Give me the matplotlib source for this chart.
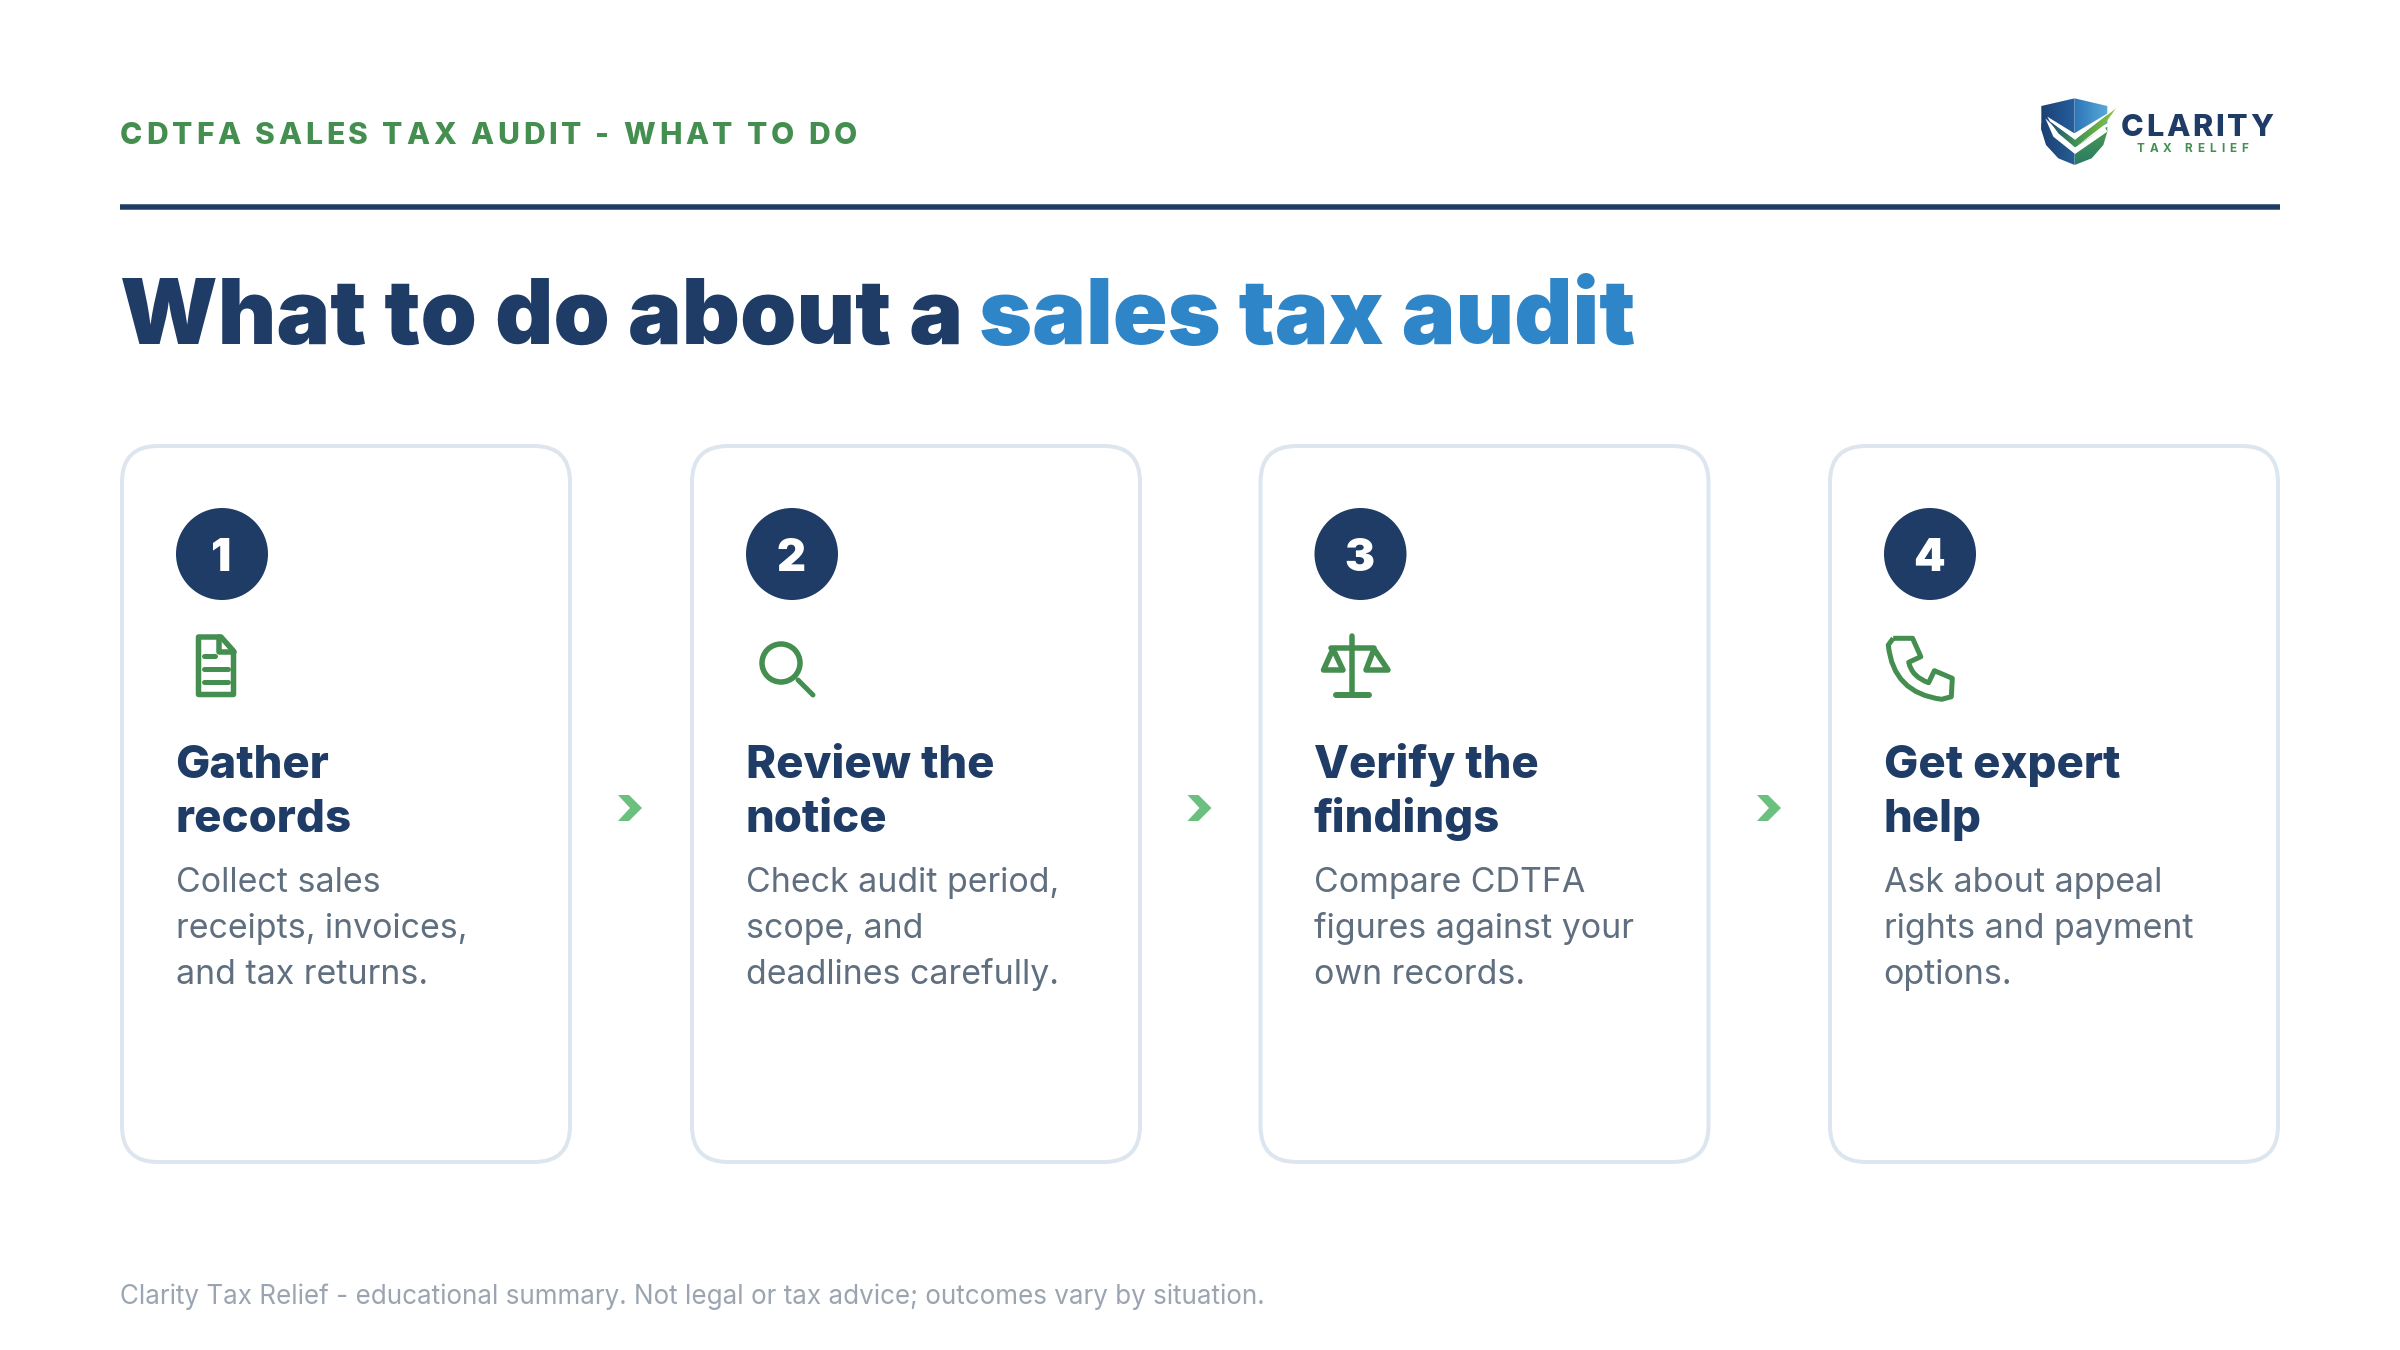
import numpy as np
import matplotlib
matplotlib.use("Agg")
import matplotlib.pyplot as plt
from matplotlib.patches import FancyBboxPatch, Circle, Polygon, PathPatch
from matplotlib.path import Path

HEADER = "CDTFA SALES TAX AUDIT - WHAT TO DO"
TITLE_A = "What to do about a"
TITLE_B = "sales tax audit"
NUMBERS = ["1", "2", "3", "4"]
STEP_TITLES = [["Gather", "records"], ["Review the", "notice"], ["Verify the", "findings"], ["Get expert", "help"]]
STEP_BODIES = [["Collect sales", "receipts, invoices,", "and tax returns."],
               ["Check audit period,", "scope, and", "deadlines carefully."],
               ["Compare CDTFA", "figures against your", "own records."],
               ["Ask about appeal", "rights and payment", "options."]]
FOOTER = "Clarity Tax Relief - educational summary. Not legal or tax advice; outcomes vary by situation."

NAVY = "#1F3C66"; BLUE = "#2E86C8"; GREEN = "#448F50"; LIGHTG = "#6BBF7F"
BORDER = "#DDE6EF"; BODY = "#5F6F80"; FOOT = "#9AA5B1"

fig = plt.figure(figsize=(24, 13.5), dpi=100, facecolor="white")
ax = fig.add_axes([0, 0, 1, 1])
ax.set_xlim(0, 2400); ax.set_ylim(1350, 0); ax.axis("off")
rend = fig.canvas.get_renderer()
PX = 0.72

def measure(s, size, weight, family="Inter"):
    t = ax.text(0, 0, s + ".", fontsize=size*PX, fontweight=weight, family=family)
    w = t.get_window_extent(rend).width
    t.set_text(".")
    w0 = t.get_window_extent(rend).width
    t.remove()
    return w - w0

def txt(x, y, s, size, color, weight="normal", spacing=0.0, family="Inter", ha="left", zorder=5):
    if spacing == 0:
        ax.text(x, y, s, fontsize=size*PX, color=color, fontweight=weight, family=family, va="baseline", ha=ha, zorder=zorder)
        return x + measure(s, size, weight, family)
    for i, c in enumerate(s):
        if c != " ":
            ax.text(x + measure(s[:i], size, weight, family) + i*spacing, y, c, fontsize=size*PX,
                    color=color, fontweight=weight, family=family, va="baseline", ha="left", zorder=zorder)
    return x + measure(s, size, weight, family) + len(s)*spacing

def stroke(pts, lw=5, color=GREEN, closed=False):
    ax.add_patch(Polygon(pts, closed=closed, fill=False, edgecolor=color, lw=lw*PX, joinstyle="round", capstyle="round"))

# header
txt(120, 144, HEADER, 30, GREEN, "heavy", spacing=3.82)
ax.plot([120, 2280], [207, 207], color=NAVY, lw=5.5*PX, solid_capstyle="butt")

# title
txt(120, 343.5, TITLE_A, 90.3, NAVY, "black")
txt(979, 343.5, TITLE_B, 90.3, BLUE, "black")

# logo
def grad(poly, c0, c1, horizontal=False, zorder=3):
    a = np.array(poly)
    x0, x1, y0, y1 = a[:,0].min(), a[:,0].max(), a[:,1].min(), a[:,1].max()
    c0 = np.array(matplotlib.colors.to_rgb(c0)); c1 = np.array(matplotlib.colors.to_rgb(c1))
    t = np.linspace(0, 1, 64)
    g = (c0[None, :]*(1-t)[:, None] + c1[None, :]*t[:, None])
    img = g[None, :, :] if horizontal else g[:, None, :]
    im = ax.imshow(img, extent=(x0, x1, y1, y0), aspect="auto", zorder=zorder, interpolation="bilinear")
    p = Polygon(poly, closed=True, fc="none", ec="none")
    ax.add_patch(p)
    im.set_clip_path(p)
    ax.set_xlim(0, 2400); ax.set_ylim(1350, 0)

def ZP(l):
    return [(2030 + x/3, 90 + y/3) for x, y in l]

def white(l):
    ax.add_patch(Polygon(ZP(l), closed=True, fc="white", ec="none", zorder=4))

grad(ZP([(34,48),(134,25),(134,150),(34,120)]), "#1C3F72", "#25609F", True)
grad(ZP([(134,25),(232,48),(232,100),(134,150)]), "#2E76B8", "#5AA9D9", True)
grad(ZP([(34,100),(134,170),(134,225),(85,205),(48,165),(34,120)]), "#1C3F72", "#265E93", True)
grad(ZP([(134,170),(232,110),(232,125),(220,165),(185,205),(134,225)]), "#4C9C52", "#2A7A66", False)
white([(52,80),(133,130),(258,55),(135,150),(60,95)])
white([(46,85),(135,172),(225,112),(232,125),(135,192),(70,140)])
grad(ZP([(60,95),(135,150),(135,172),(85,130)]), "#1F4C7E", "#3E9152", True, zorder=4.5)
grad(ZP([(135,150),(258,55),(222,105),(135,172)]), "#3E9152", "#8DC63F", True, zorder=4.5)
txt(2120.7, 136, "CLARITY", 30.5, NAVY, "heavy", spacing=2.8)
txt(2136.7, 151.7, "TAX RELIEF", 11.7, GREEN, "bold", spacing=5)

# cards
LEFTS = [122, 692, 1260.5, 1830]
W, T, H = 448, 446, 716
for i, L in enumerate(LEFTS):
    ax.add_patch(FancyBboxPatch((L+36, T+36), W-72, H-72, boxstyle="round,pad=36,rounding_size=36",
                                fc="white", ec=BORDER, lw=4*PX))
    cx = L + 100
    ax.add_patch(Circle((cx, 554), 46, fc=NAVY, ec="none"))
    ax.text(cx-1, 571, NUMBERS[i], fontsize=45*PX, color="white", fontweight="black", family="Inter", ha="center", va="baseline")
    x = L + 53.5
    for j, s in enumerate(STEP_TITLES[i]):
        txt(x, 778 + 54*j, s, 45.5, NAVY, "heavy")
    for j, s in enumerate(STEP_BODIES[i]):
        txt(x, 892 + 46*j, s, 33.9, BODY, "normal")

# chevrons
for cx in [630, 1199.5, 1769]:
    x0 = cx - 12
    ax.add_patch(Polygon([(x0, 795), (x0+11, 795), (x0+24, 808), (x0+11, 821), (x0, 821), (x0+12, 808)], closed=True, fc=LIGHTG, ec="none"))

# doc icon
stroke([(198.5,637),(221,637),(233.5,651),(233.5,694.5),(198.5,694.5)], closed=True, lw=5.5)
stroke([(219,637),(219,652),(233.5,652)], lw=5.5)
for x1, y in [(215,656),(228,669),(228,682)]:
    ax.plot([204, x1], [y, y], color=GREEN, lw=5*PX, solid_capstyle="round")

# magnifier
ax.add_patch(Circle((781, 663), 19, fc="none", ec=GREEN, lw=5.5*PX))
ax.plot([798, 813], [680, 695], color=GREEN, lw=5*PX, solid_capstyle="round")

# scales
ax.plot([1352, 1352], [636, 695], color=GREEN, lw=5.5*PX, solid_capstyle="round")
ax.plot([1336, 1369], [695, 695], color=GREEN, lw=6*PX, solid_capstyle="round")
ax.plot([1331, 1374], [648, 648], color=GREEN, lw=5.5*PX, solid_capstyle="round")
stroke([(1333,649),(1323.5,670),(1343,670)], closed=True, lw=5.5)
stroke([(1374,649),(1366,670),(1388,670)], closed=True, lw=5.5)

# phone
V = [(1893.2,638.3),(1912.6,638.3),(1920.8,656.7),(1908.7,662.3),(1912,677),(1928.6,682.7),(1934.4,670.7),
     (1952.3,678.3),(1951.3,696.7),(1941.7,699.3),(1893,693),(1888.3,645),(1893.2,638.3)]
C = [Path.MOVETO, Path.LINETO, Path.LINETO, Path.LINETO, Path.CURVE3, Path.CURVE3, Path.LINETO,
     Path.LINETO, Path.LINETO, Path.LINETO, Path.CURVE3, Path.CURVE3, Path.LINETO]
ax.add_patch(PathPatch(Path(V, C), fc="none", ec=GREEN, lw=5*PX, joinstyle="round"))

# footer
txt(120, 1303.5, FOOTER, 26, FOOT, "normal")

fig.savefig("out.png", dpi=100, facecolor="white")
